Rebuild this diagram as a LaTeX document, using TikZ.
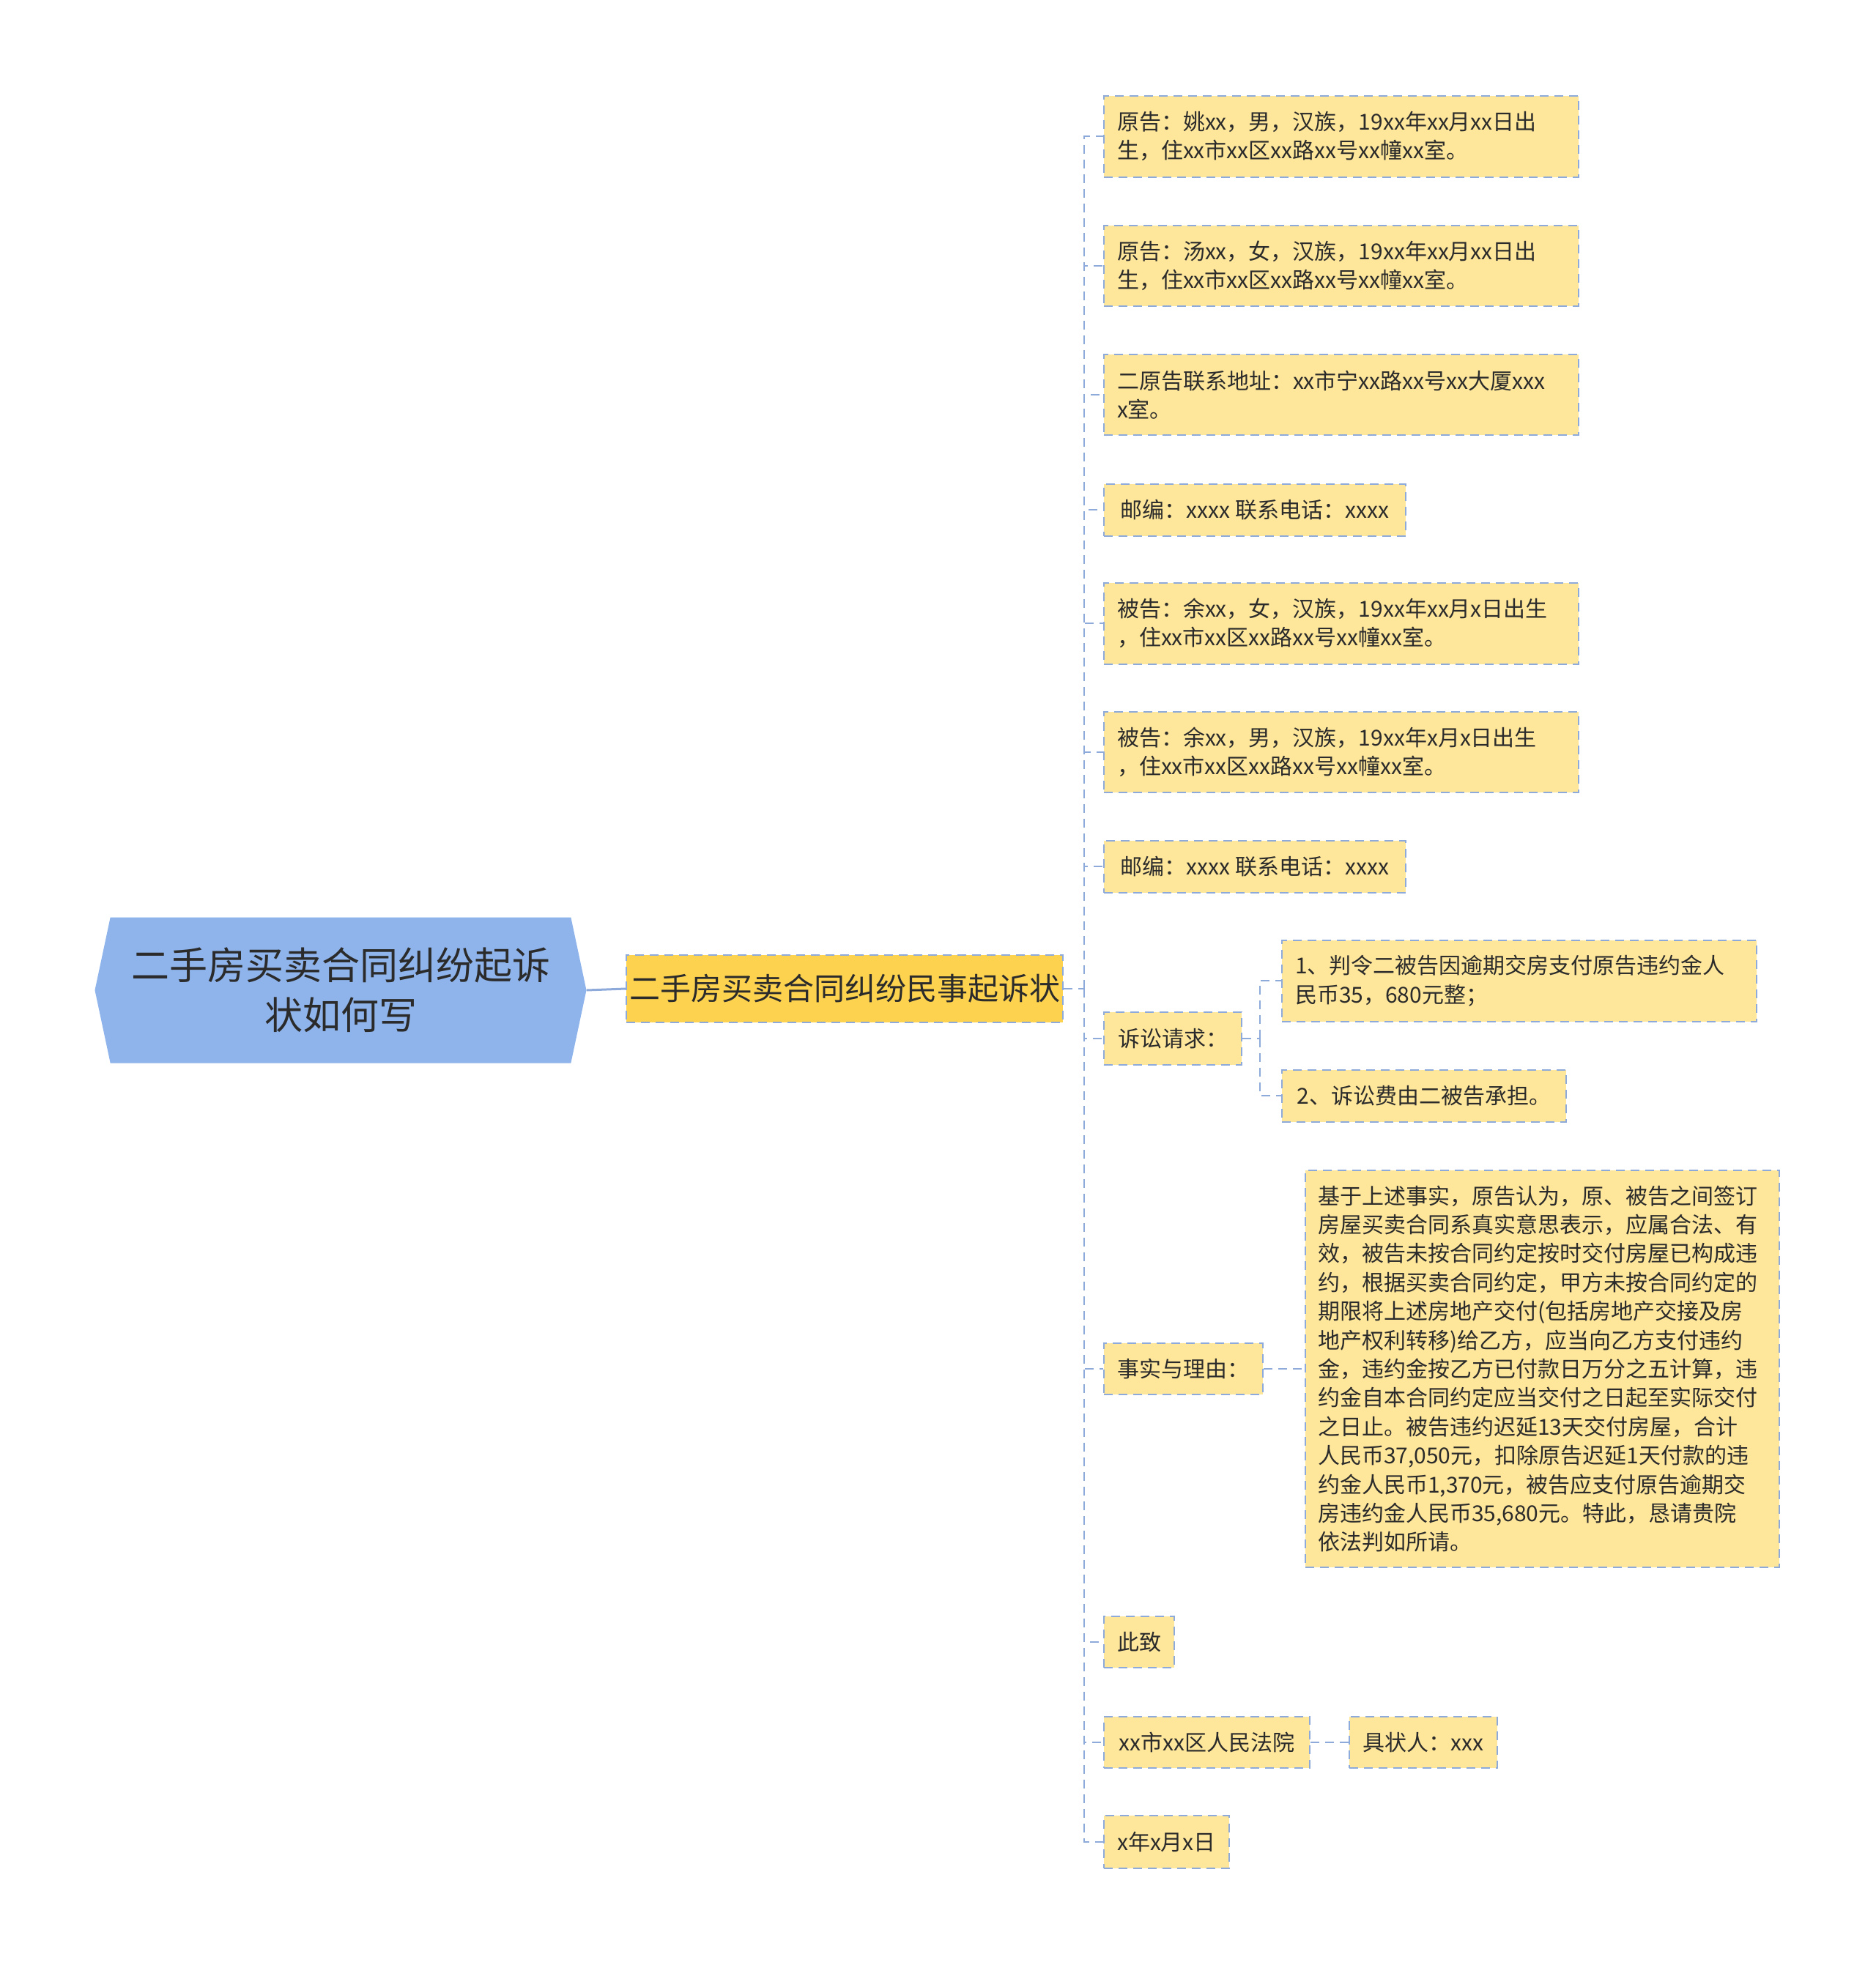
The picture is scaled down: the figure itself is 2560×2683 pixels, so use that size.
\documentclass[tikz,border=0pt]{standalone}
\usepackage{fontspec}
\setmainfont{Noto Sans CJK SC}
\usetikzlibrary{shapes.symbols}
\definecolor{rootblue}{HTML}{8FB4EB}
\definecolor{mainyellow}{HTML}{FDD24F}
\definecolor{leafyellow}{HTML}{FEE69A}
\definecolor{linkblue}{HTML}{8EAADB}
\definecolor{textgray}{HTML}{2B2B2B}

\begin{document}
\begin{tikzpicture}[x=1pt,y=-1pt,
  root/.style={signal,signal to=west and east,signal pointer angle=156,
    fill=rootblue,minimum width=671pt,minimum height=199pt,inner xsep=10pt,
    text width=580pt,align=center,text=textgray,
    font=\fontsize{52}{68}\selectfont},
  main/.style={fill=mainyellow,draw=linkblue,line width=2pt,
    dash pattern=on 12pt off 8pt,minimum width=596pt,minimum height=92pt,
    text=textgray,font=\fontsize{42}{52}\selectfont},
  leaf/.style={anchor=west,fill=leafyellow,draw=linkblue,line width=2pt,
    dash pattern=on 12pt off 8pt,inner xsep=18pt,align=left,text=textgray,
    font=\fontsize{30}{39.4}\selectfont},
  link/.style={draw=linkblue,line width=2pt,dash pattern=on 12pt off 8pt},
  trunk/.style={draw=linkblue,line width=3pt}]

\useasboundingbox (0,0) rectangle (2560,2683);

\node[root] (root) at (465,1352) {二手房买卖合同纠纷起诉\\状如何写};
\node[main] (doc) at (1153,1350) {二手房买卖合同纠纷民事起诉状};

% parties
\node[leaf,minimum width=648pt,minimum height=111pt,text width=612pt] (p1) at (1506,186)
  {原告：姚xx，男，汉族，19xx年xx月xx日出\\生，住xx市xx区xx路xx号xx幢xx室。};
\node[leaf,minimum width=648pt,minimum height=110pt,text width=612pt] (p2) at (1506,363)
  {原告：汤xx，女，汉族，19xx年xx月xx日出\\生，住xx市xx区xx路xx号xx幢xx室。};
\node[leaf,minimum width=648pt,minimum height=110pt,text width=612pt] (p3) at (1506,539)
  {二原告联系地址：xx市宁xx路xx号xx大厦xxx\\x室。};
\node[leaf,minimum width=412pt,minimum height=71pt] (p4) at (1506,696)
  {邮编：xxxx 联系电话：xxxx};
\node[leaf,minimum width=648pt,minimum height=111pt,text width=612pt] (d1) at (1506,851)
  {被告：余xx，女，汉族，19xx年xx月x日出生\\，住xx市xx区xx路xx号xx幢xx室。};
\node[leaf,minimum width=648pt,minimum height=110pt,text width=612pt] (d2) at (1506,1027)
  {被告：余xx，男，汉族，19xx年x月x日出生\\，住xx市xx区xx路xx号xx幢xx室。};
\node[leaf,minimum width=412pt,minimum height=71pt] (d3) at (1506,1183)
  {邮编：xxxx 联系电话：xxxx};

% claims
\node[leaf,minimum width=188pt,minimum height=72pt] (req) at (1506,1418) {诉讼请求：};
\node[leaf,minimum width=648pt,minimum height=111pt,text width=612pt] (req1) at (1749,1339)
  {1、判令二被告因逾期交房支付原告违约金人\\民币35，680元整；};
\node[leaf,minimum width=388pt,minimum height=71pt] (req2) at (1749,1496)
  {2、诉讼费由二被告承担。};

% facts
\node[leaf,minimum width=217pt,minimum height=70pt] (fact) at (1506,1869) {事实与理由：};
\node[leaf,minimum width=647pt,minimum height=542pt,text width=613pt,inner xsep=17pt] (fact1) at (1781,1869)
  {基于上述事实，原告认为，原、被告之间签订\\
   房屋买卖合同系真实意思表示，应属合法、有\\
   效，被告未按合同约定按时交付房屋已构成违\\
   约，根据买卖合同约定，甲方未按合同约定的\\
   期限将上述房地产交付(包括房地产交接及房\\
   地产权利转移)给乙方，应当向乙方支付违约\\
   金，违约金按乙方已付款日万分之五计算，违\\
   约金自本合同约定应当交付之日起至实际交付\\
   之日止。被告违约迟延13天交付房屋，合计\\
   人民币37,050元，扣除原告迟延1天付款的违\\
   约金人民币1,370元，被告应支付原告逾期交\\
   房违约金人民币35,680元。特此，恳请贵院\\
   依法判如所请。};

% closing
\node[leaf,minimum width=96pt,minimum height=70pt] (close) at (1506,2242) {此致};
\node[leaf,minimum width=281pt,minimum height=70pt] (court) at (1506,2379) {xx市xx区人民法院};
\node[leaf,minimum width=202pt,minimum height=70pt] (sign) at (1841,2379) {具状人：xxx};
\node[leaf,minimum width=171pt,minimum height=72pt] (date) at (1506,2515) {x年x月x日};

\coordinate (sp) at (1480,1350);
\coordinate (sq) at (1720,1418);

\draw[trunk] (root.east) -- (doc.west);
\draw[link] (doc.east) -- (sp);
\draw[link] (sp) |- (p1.west) (sp) |- (p2.west) (sp) |- (p3.west)
  (sp) |- (p4.west) (sp) |- (d1.west) (sp) |- (d2.west) (sp) |- (d3.west)
  (sp) |- (req.west) (sp) |- (fact.west) (sp) |- (close.west)
  (sp) |- (court.west) (sp) |- (date.west);
\draw[link] (req.east) -- (sq) (sq) |- (req1.west) (sq) |- (req2.west);
\draw[link] (fact.east) -- (fact1.west);
\draw[link] (court.east) -- (sign.west);

\end{tikzpicture}
\end{document}
